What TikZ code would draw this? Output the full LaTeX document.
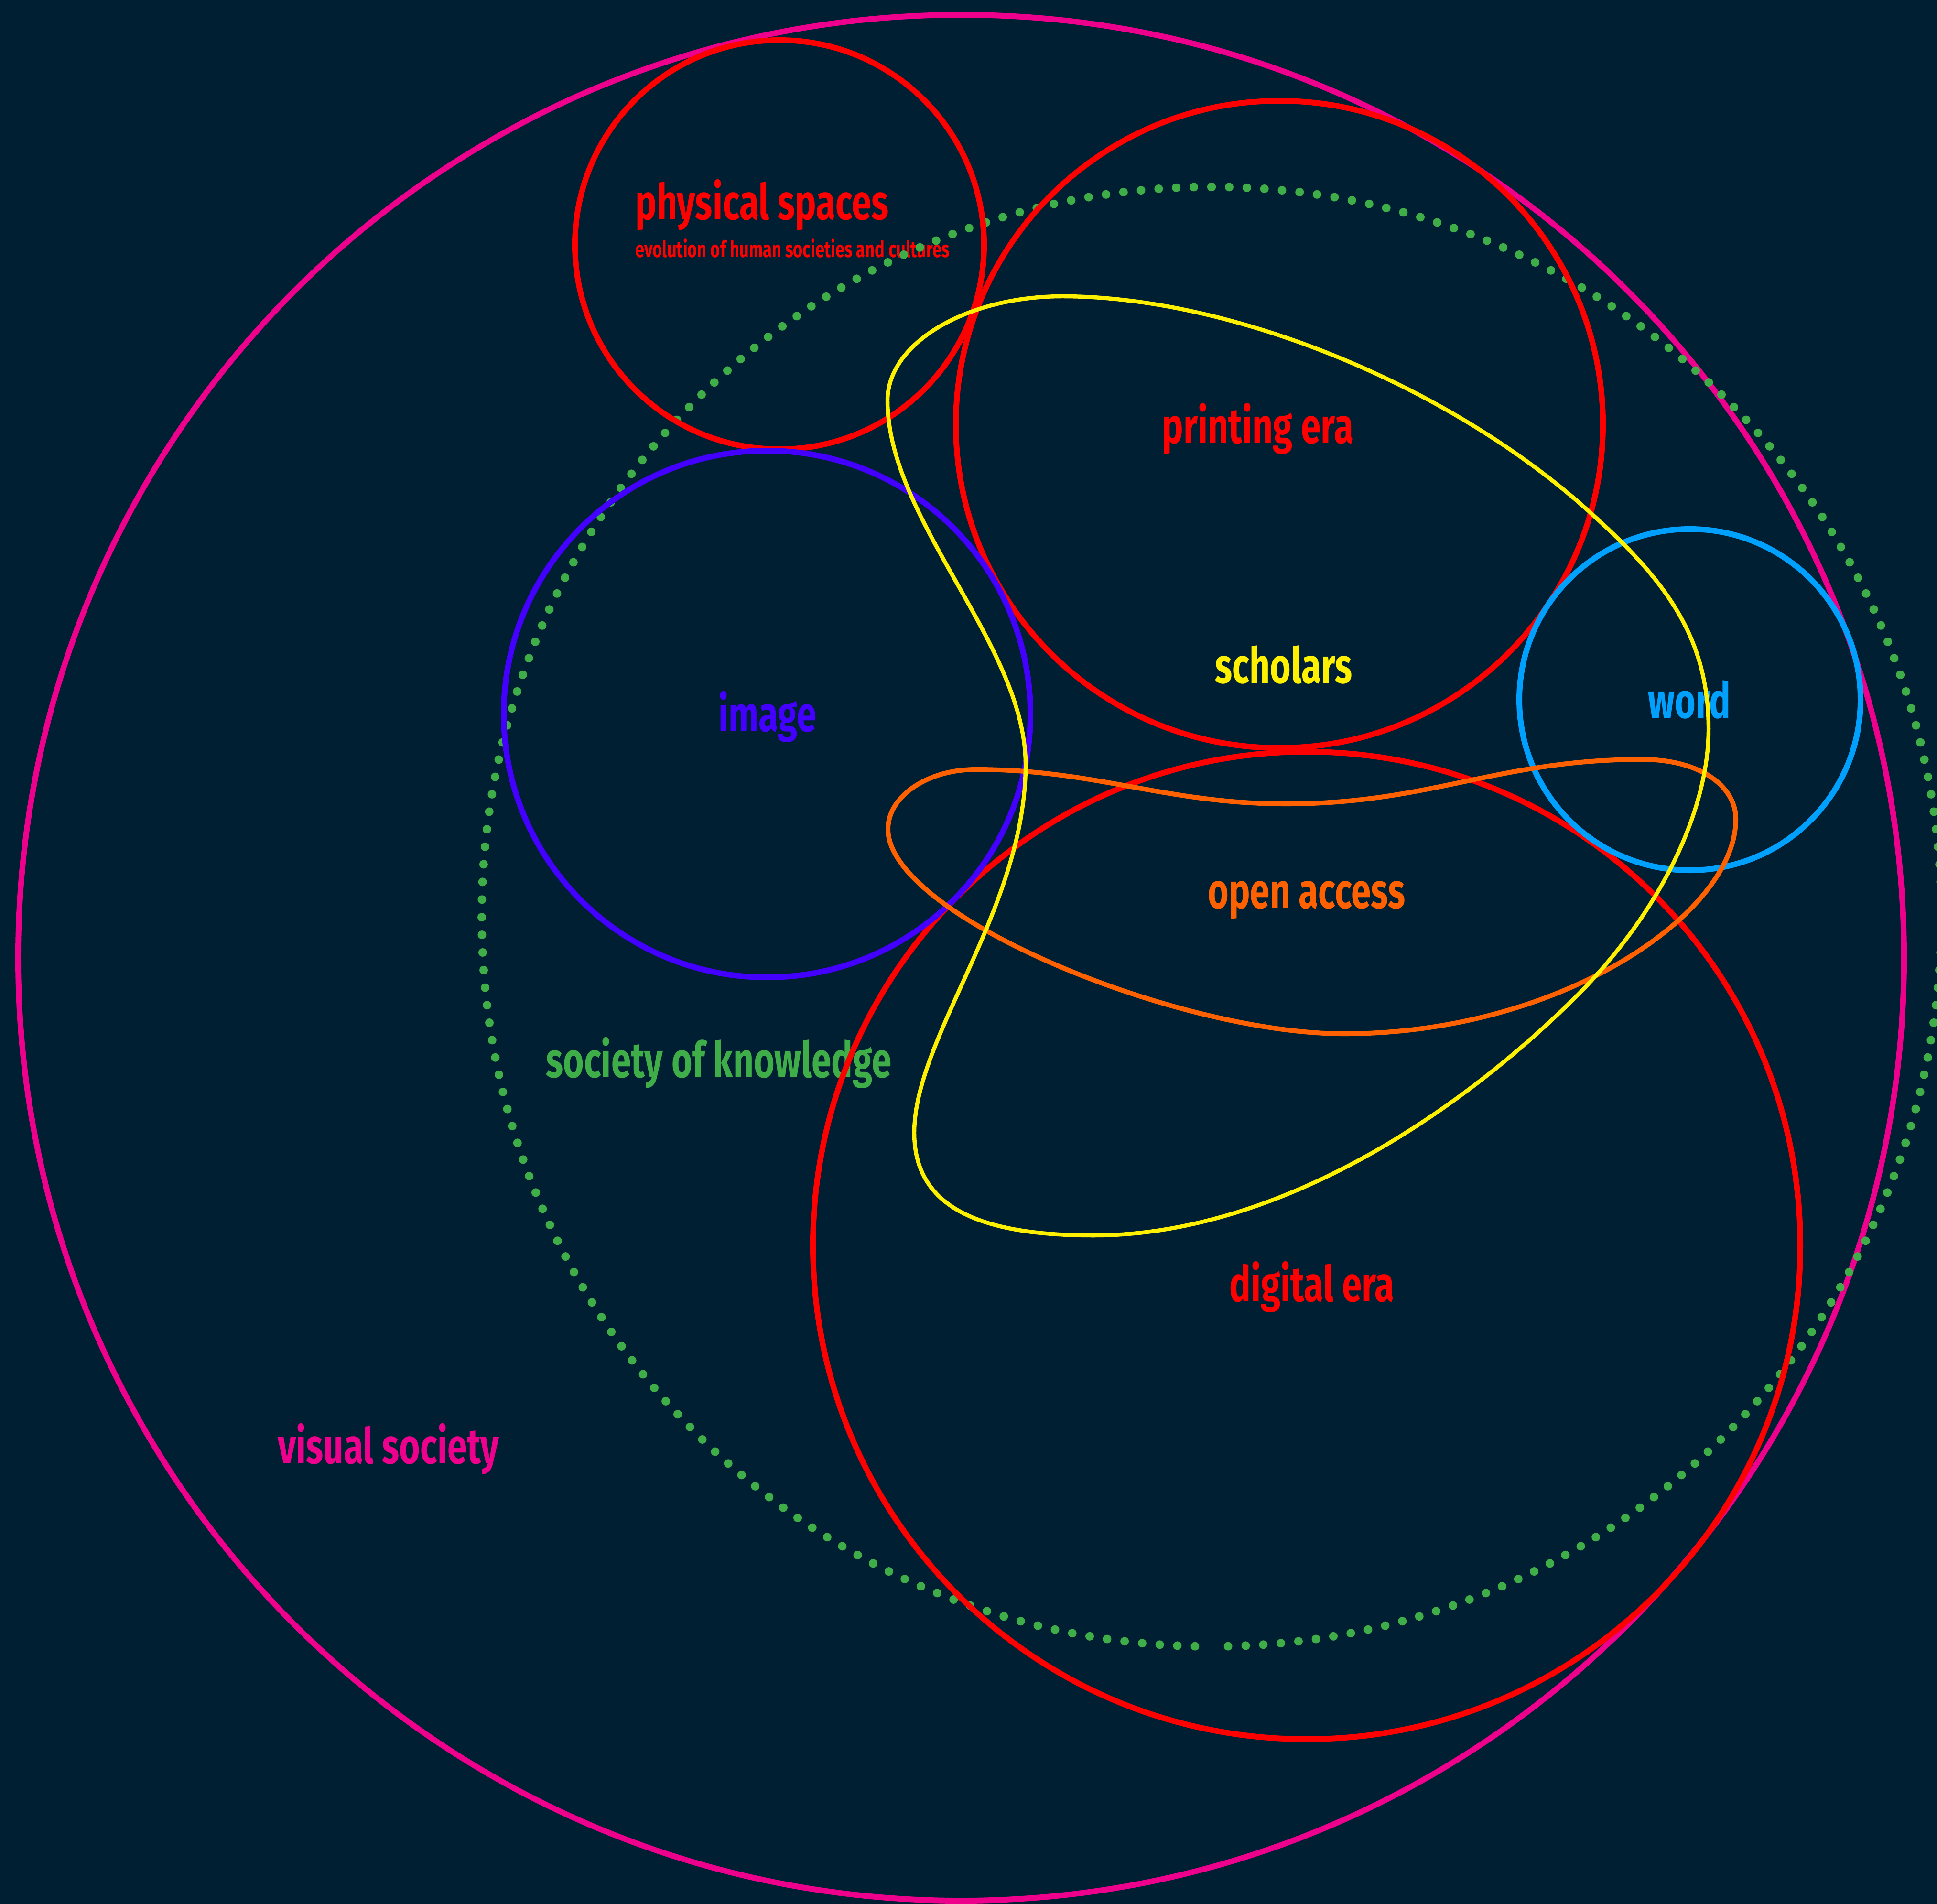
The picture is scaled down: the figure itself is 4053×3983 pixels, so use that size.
\documentclass[tikz,border=0pt]{standalone}
\usepackage{fontspec}
\newfontfamily\labelfont[FakeStretch=0.72]{Fira Sans}
\definecolor{bgnavy}{HTML}{001F32}
\definecolor{vmagenta}{HTML}{EC008C}
\definecolor{vred}{HTML}{FF0000}
\definecolor{vindigo}{HTML}{4400FF}
\definecolor{vsky}{HTML}{00A0FF}
\definecolor{vorange}{HTML}{FF6000}
\definecolor{vyellow}{HTML}{FFF000}
\definecolor{kgreen}{HTML}{3FAE49}
\begin{document}
\begin{tikzpicture}[x=0.01cm,y=-0.01cm,
  ring/.style={line width=3.4pt},
  lbl/.style={font=\labelfont\bfseries\fontsize{29.5}{30}\selectfont,inner sep=0pt,anchor=base},
  sublbl/.style={font=\labelfont\bfseries\fontsize{13.6}{14}\selectfont,inner sep=0pt,anchor=base west},
  knowdots/.style={kgreen,line width=5.1pt,line cap=round,dash pattern=on 0pt off 10.5pt}]
\useasboundingbox (0,0) rectangle (4053,3983);
\fill[bgnavy] (0,0) rectangle (4053,3983);
\clip (0,0) rectangle (4053,3983);
% labels
\node[lbl,anchor=base west,text=vred] (physical) at (1329,459) {physical spaces};
\node[sublbl,text=vred] (evolution) at (1329,538) {evolution of human societies and cultures};
\node[lbl,text=vred] (printing) at (2632,927) {printing era};
\node[lbl,text=vyellow] (scholars) at (2686,1429) {scholars};
\node[lbl,text=vindigo] (image) at (1606,1530) {image};
\node[lbl,text=vsky] (word) at (3535,1502) {word};
\node[lbl,text=vorange] (open) at (2734,1900) {open access};
\node[lbl,text=kgreen] (knowledge) at (1504,2254) {society of knowledge};
\node[lbl,text=vred] (digital) at (2745,2723) {digital era};
\node[lbl,text=vmagenta] (visual) at (813,3062) {visual society};
% circles
\draw[ring,vmagenta] (2011,2004) circle [radius=1973];
\draw[knowdots] (2535,391) arc [start angle=-90,end angle=90,radius=1527];
\draw[knowdots] (2535,391) arc [start angle=-90,end angle=-270,radius=1527];
\draw[ring,vred] (1631,512) circle [radius=428];
\draw[ring,vred] (2677,888) circle [radius=677];
\draw[ring,vred] (2734,2606) circle [radius=1033];
\draw[ring,vindigo] (1605,1494) circle [radius=551];
\draw[ring,vsky] (3536,1464) circle [radius=357];
% open access
\draw[vorange,line width=2.85pt] (1858,1735)
  .. controls (1858,1665) and (1942,1610) .. (2042,1610)
  .. controls (2292,1610) and (2441,1682) .. (2691,1682)
  .. controls (2991,1682) and (3136,1589) .. (3436,1589)
  .. controls (3556,1589) and (3632,1644) .. (3632,1714)
  .. controls (3632,1914) and (3262,2163) .. (2812,2163)
  .. controls (2462,2163) and (1858,1915) .. cycle;
% scholars
\draw[vyellow,line width=2.4pt] (1857,838)
  .. controls (1857,718) and (2022,620) .. (2223,620)
  .. controls (2573,620) and (3031,804) .. (3327,1072)
  .. controls (3475,1206) and (3575,1325) .. (3575,1525)
  .. controls (3575,1700) and (3470,1915) .. (3293,2090)
  .. controls (3009,2370) and (2638,2585) .. (2288,2585)
  .. controls (2038,2585) and (1913,2520) .. (1913,2370)
  .. controls (1913,2170) and (2146,1900) .. (2146,1600)
  .. controls (2146,1350) and (1857,1088) .. cycle;
\end{tikzpicture}
\end{document}
